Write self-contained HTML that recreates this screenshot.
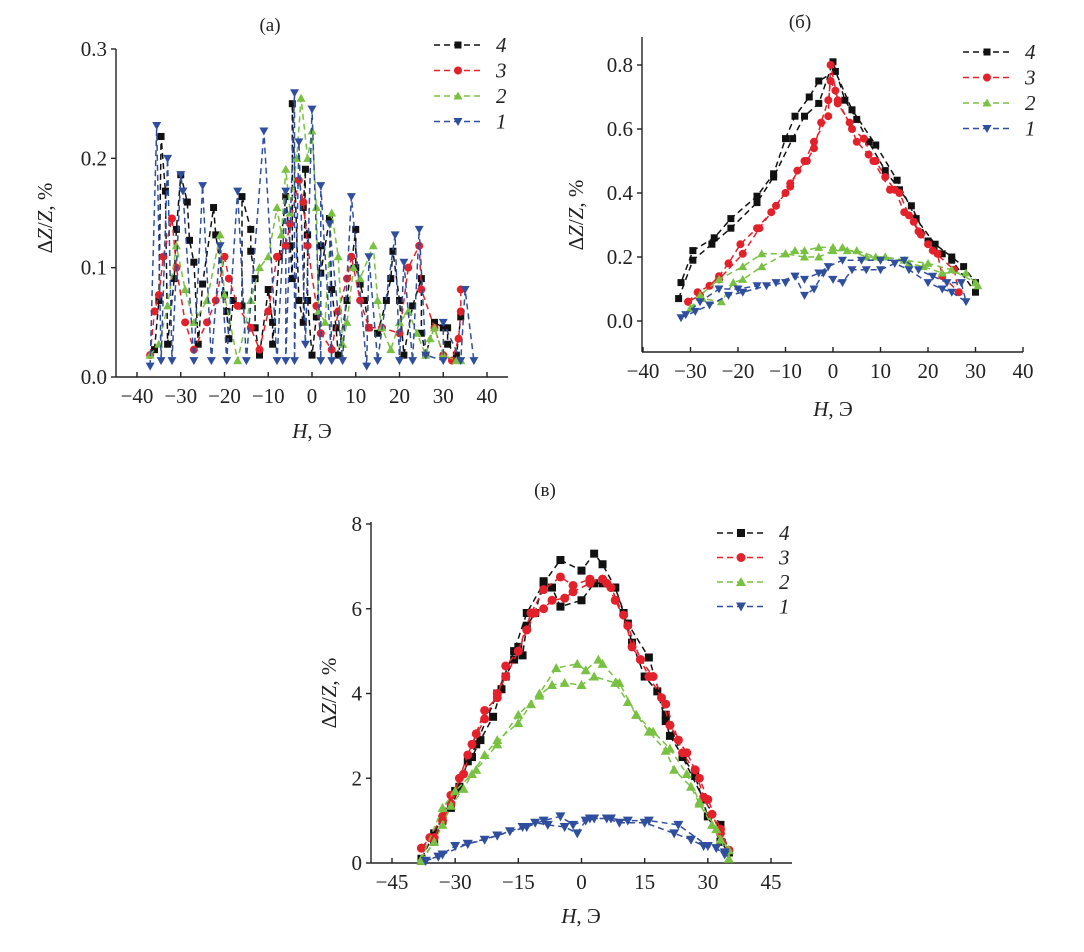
<!DOCTYPE html>
<html><head><meta charset="utf-8">
<style>
html,body{margin:0;padding:0;background:#fff;}
svg{display:block;font-family:"Liberation Serif",serif;}
</style></head>
<body>
<svg id="fig" width="1084" height="952" viewBox="0 0 1084 952" xmlns="http://www.w3.org/2000/svg"></svg>
<script>
// ---------- Panel (a) data ----------
const aBlackX=[-36,-35,-34.5,-33.5,-33,-31.5,-31,-30,-28.5,-28,-27,-26,-25,-22.5,-22,-20,-19.5,-19,-18,-16,-16,-14,-14,-13,-13,-12,-10,-9,-9,-7.5,-6,-5,-4.5,-4.5,-3,-2,-1.5,-2,-1,-1,0,1,2,2,4,4.5,5.5,6,8,10,10,11,12,13,15,17,18,18.5,20,21,23,25,25,26,28,30,31,31,33,34];
const aBlackY=[0.025,0.07,0.22,0.17,0.03,0.09,0.135,0.185,0.16,0.125,0.105,0.03,0.085,0.155,0.13,0.075,0.06,0.035,0.07,0.065,0.165,0.135,0.115,0.09,0.045,0.02,0.08,0.05,0.03,0.11,0.165,0.12,0.09,0.25,0.07,0.05,0.19,0.155,0.13,0.07,0.02,0.055,0.12,0.095,0.145,0.08,0.045,0.02,0.07,0.135,0.1,0.085,0.07,0.045,0.04,0.07,0.09,0.115,0.07,0.02,0.065,0.09,0.04,0.02,0.05,0.045,0.045,0.03,0.02,0.055];
const aRedX=[-37,-36,-35,-34,-32,-31,-29,-27,-24,-22,-20,-19,-17,-14,-12,-10,-8,-6,-5,-3,-2,-1,1,2,4.5,6,8,9,11,13,16,20,22,24.5,25,28,30,32,33.5,34,34];
const aRedY=[0.02,0.06,0.075,0.11,0.145,0.1,0.05,0.025,0.05,0.07,0.11,0.09,0.065,0.045,0.025,0.06,0.11,0.12,0.14,0.18,0.16,0.12,0.065,0.04,0.025,0.06,0.09,0.11,0.07,0.045,0.045,0.04,0.1,0.12,0.08,0.045,0.02,0.015,0.035,0.06,0.08];
const aGreenX=[-37,-35,-33,-31,-29,-27,-24,-21,-20,-17,-14,-12,-10,-8,-7,-6,-5,-3.5,-2.5,-1,0,1,1.5,3,4.5,6,7,8,9.5,11,14,15,16,18,20,22,24,26,27,28,30,33,34];
const aGreenY=[0.02,0.03,0.065,0.12,0.08,0.05,0.07,0.13,0.075,0.015,0.07,0.1,0.11,0.155,0.13,0.19,0.15,0.2,0.255,0.2,0.225,0.155,0.06,0.05,0.15,0.11,0.03,0.05,0.1,0.09,0.12,0.07,0.045,0.025,0.05,0.06,0.04,0.02,0.035,0.045,0.02,0.015,0.015];
const aBlueX=[-37,-35.5,-34.5,-33,-32,-30,-29.5,-27,-25,-23,-21,-19.5,-17,-15,-11,-8,-6,-6,-4,-4,-3,-1.5,0,2,2,4.5,4,7,9,12.5,13,15,19,20,21,23,24.5,26,30,30,34,35,37];
const aBlueY=[0.01,0.23,0.015,0.2,0.015,0.185,0.17,0.015,0.175,0.015,0.12,0.015,0.17,0.015,0.225,0.015,0.17,0.015,0.26,0.015,0.215,0.03,0.245,0.015,0.175,0.015,0.14,0.015,0.165,0.01,0.11,0.015,0.13,0.015,0.105,0.015,0.135,0.02,0.015,0.05,0.015,0.08,0.015];
const aXTicks=[-40,-30,-20,-10,0,10,20,30,40];
const aYTicks=[0,0.1,0.2,0.3];
const aYLabels=["0.0","0.1","0.2","0.3"];

// ---------- Panel (б) data ----------
const bBlackX=[-32.5,-29.5,-25.5,-21.5,-16,-12.5,-8.5,-6,-3,0,2.5,5,7.5,11,14,16.5,20,23,25,30,30,27.5,25,21.5,17.5,13.5,9,4,0.5,-3,-5,-8,-10,-12.5,-16,-21.5,-25,-29.5,-32];
const bBlackY=[0.07,0.19,0.24,0.29,0.37,0.45,0.57,0.64,0.68,0.81,0.69,0.63,0.56,0.47,0.41,0.36,0.25,0.21,0.19,0.09,0.12,0.17,0.2,0.24,0.32,0.44,0.55,0.66,0.78,0.75,0.7,0.64,0.57,0.46,0.39,0.32,0.26,0.22,0.12];
const bRedX=[-30.5,-28.5,-26,-24,-22,-19.5,-16,-13,-10,-9,-7.5,-5.5,-4,-2.5,-1,-0.5,0.5,1,3.5,5,7.5,9,11,13,15,17,18.5,20,22,23,26.5,25.5,21,18,16,14,12,8.5,6.5,4,1,-0.5,-1,-4,-6,-9,-12,-15.5,-19,-24,-28,-30.5];
const bRedY=[0.06,0.09,0.11,0.14,0.18,0.24,0.29,0.34,0.4,0.42,0.47,0.5,0.54,0.62,0.69,0.75,0.72,0.68,0.62,0.56,0.52,0.5,0.45,0.41,0.34,0.31,0.27,0.24,0.21,0.14,0.09,0.16,0.22,0.28,0.33,0.4,0.41,0.5,0.57,0.6,0.69,0.8,0.64,0.56,0.5,0.43,0.36,0.29,0.21,0.13,0.08,0.06];
const bGreenX=[-30,-27.5,-23.5,-21,-19,-15,-10,-6,-3,0,3,5,9,11,16,19,23,28,30.5,30,25,20,15,11,7,2,0,-3,-6,-8,-10,-15,-19,-24,-28,-30];
const bGreenY=[0.04,0.07,0.06,0.12,0.13,0.17,0.21,0.2,0.2,0.22,0.22,0.22,0.2,0.2,0.18,0.17,0.15,0.15,0.11,0.12,0.16,0.18,0.19,0.2,0.2,0.23,0.23,0.23,0.22,0.22,0.21,0.21,0.17,0.13,0.08,0.04];
const bBlueX=[-32,-29,-26,-22,-19,-14,-10,-8,-6,-4,-2,0,2,4,7,10,13,16,20,23,25,28,27,24,21,18,15,10,6,2,-1,-3,-6,-8,-12,-16,-20,-24,-28,-31];
const bBlueY=[0.01,0.03,0.05,0.08,0.09,0.11,0.12,0.14,0.08,0.1,0.15,0.13,0.12,0.16,0.16,0.16,0.18,0.16,0.12,0.1,0.09,0.06,0.12,0.12,0.14,0.16,0.19,0.19,0.19,0.19,0.17,0.15,0.13,0.14,0.12,0.11,0.1,0.1,0.06,0.02];
const bXTicks=[-40,-30,-20,-10,0,10,20,30,40];
const bYTicks=[0,0.2,0.4,0.6,0.8];
const bYLabels=["0.0","0.2","0.4","0.6","0.8"];

// ---------- Panel (в) data ----------
const cBlackX=[-38,-35,-33,-31,-29,-27,-26,-24,-21,-19,-18,-16,-15,-14,-13,-11,-9,-7,-5,0,3,5,8,10,12,15,18,20,21,27,30,33,35,35,33,29,24,20,16,11,8,5,3,0,-5,-9,-13,-16,-20,-25,-30,-35,-38];
const cBlackY=[0.05,0.5,1.0,1.3,1.8,2.4,2.5,2.9,3.45,4.1,4.4,4.8,5.1,4.9,5.6,5.9,6.65,6.5,6.05,6.2,6.6,6.6,6.5,5.9,5.2,4.4,4.05,3.35,3.0,2.05,1.1,0.5,0.25,0.25,0.9,1.5,2.5,3.5,4.85,5.65,6.5,7.05,7.3,6.9,7.15,6.6,5.9,5.0,4.0,2.8,1.7,0.7,0.1];
const cRedX=[-38,-35,-33,-31,-29,-27,-25,-23,-20,-18,-15,-13,-11,-9,-7,-4,-2,2,5,7,10,12,14,16,19,21,23,25,27,29,31,33,35,35,33,30,28,24,20,17,14,11,8,6,2,-2,-5,-9,-12,-15,-18,-20,-23,-26,-28,-31,-33,-36,-38];
const cRedY=[0.35,0.6,1.0,1.4,2.0,2.55,3.05,3.6,3.9,4.65,5.0,5.5,5.9,6.0,6.2,6.25,6.4,6.6,6.7,6.5,5.85,5.1,4.8,4.4,3.9,3.25,2.9,2.6,2.2,1.55,1.15,0.7,0.3,0.3,0.8,1.5,2.0,2.6,3.75,4.4,4.8,5.6,6.2,6.6,6.7,6.55,6.75,6.45,5.9,5.0,4.4,4.0,3.4,2.8,2.1,1.6,1.1,0.6,0.35];
const cGreenX=[-38,-35,-33,-31,-28,-26,-23,-20,-15,-12,-10,-7,-4,0,3,8,11,13,16,20,22,26,28,31,33,35,35,32,28,25,21,17,13,9,5,4,1,-1,-6,-10,-15,-20,-25,-30,-33,-38];
const cGreenY=[0.05,0.5,0.9,1.35,1.75,2.1,2.55,2.9,3.3,3.75,3.95,4.2,4.25,4.2,4.4,4.25,3.8,3.5,3.1,2.65,2.2,1.8,1.4,0.9,0.55,0.1,0.3,0.8,1.45,2.1,2.7,3.1,3.5,4.25,4.7,4.8,4.55,4.7,4.6,4.0,3.5,2.8,2.2,1.7,1.3,0.1];
const cBlueX=[-37,-34,-30,-27,-23,-20,-17,-14,-11,-8,-4,-1,1,3,6,9,15,22,26,29,32,34,34,30,23,16,11,7,2,-2,-5,-9,-13,-20,-27,-33,-37];
const cBlueY=[0.05,0.15,0.4,0.45,0.55,0.65,0.75,0.85,0.95,0.9,0.85,0.7,1.0,1.05,1.05,0.95,0.95,0.7,0.55,0.4,0.35,0.2,0.25,0.4,0.9,1.0,1.0,1.05,1.05,0.9,1.1,1.0,0.85,0.65,0.45,0.2,0.05];
const cXTicks=[-45,-30,-15,0,15,30,45];
const cYTicks=[0,2,4,6,8];
const cYLabels=["0","2","4","6","8"];

const COLORS={k:"#111",r:"#e3212b",g:"#79c142",b:"#2f4f9e"};
const NS="http://www.w3.org/2000/svg";
const svg=document.getElementById('fig');
function mk(tag,attrs,parent){const e=document.createElementNS(NS,tag);for(const k in attrs)e.setAttribute(k,attrs[k]);(parent||svg).appendChild(e);return e;}

function marker(g,type,x,y,s,col){
  let e;
  if(type==='sq'){e=mk('rect',{x:x-s/2,y:y-s/2,width:s,height:s,fill:col},g);}
  else if(type==='ci'){e=mk('circle',{cx:x,cy:y,r:s/2+0.5,fill:col},g);}
  else if(type==='up'){e=mk('polygon',{points:`${x},${y-s/2-1} ${x-s/2-1},${y+s/2} ${x+s/2+1},${y+s/2}`,fill:col},g);}
  else {e=mk('polygon',{points:`${x},${y+s/2+1} ${x-s/2-1},${y-s/2} ${x+s/2+1},${y-s/2}`,fill:col},g);}
  return e;
}

function panel(cfg){
  const g=mk('g',{});
  
  
  const sx=v=>cfg.x0+(v-cfg.xmin)*(cfg.x1-cfg.x0)/(cfg.xmax-cfg.xmin);
  const sy=v=>cfg.y0-(v-cfg.ymin)*(cfg.y0-cfg.y1)/(cfg.ymax-cfg.ymin);
  const t=mk('text',{x:cfg.titleX,y:cfg.titleY,'font-size':19,'text-anchor':'middle',fill:'#222'},g);
  t.textContent=cfg.title;
  
  
  const ax=mk('g',{stroke:'#222','stroke-width':1.4,fill:'none'},g);
  
  
  mk('line',{x1:cfg.axL,y1:cfg.axB,x2:cfg.axR,y2:cfg.axB},ax);
  mk('line',{x1:cfg.axL,y1:cfg.axB,x2:cfg.axL,y2:cfg.axT},ax);
  cfg.xt.forEach(v=>{
    const X=sx(v);mk('line',{x1:X,y1:cfg.axB,x2:X,y2:cfg.axB-5},ax);
    const tx=mk('text',{x:X,y:cfg.axB+26,'font-size':21,'text-anchor':'middle',fill:'#222',stroke:'none'},g);
    tx.textContent=(v<0?'\u2212'+(-v):''+v);
    
    
  });
  cfg.yt.forEach((v,i)=>{
    const Y=sy(v);mk('line',{x1:cfg.axL,y1:Y,x2:cfg.axL-5,y2:Y},ax);
    const ty=mk('text',{x:cfg.axL-9,y:Y+7,'font-size':21,'text-anchor':'end',fill:'#222',stroke:'none'},g);
    ty.textContent=cfg.yl[i];
    
    
  });
  const xl=mk('text',{x:cfg.xlX,y:cfg.xlY,'font-size':21,'text-anchor':'middle',fill:'#222'},g);
  xl.innerHTML='<tspan font-style="italic">H</tspan>, Э';
  
  
  const yl=mk('text',{x:0,y:0,'font-size':21,'text-anchor':'middle',fill:'#222',transform:`translate(${cfg.ylX},${cfg.ylY}) rotate(-90)`},g);
  yl.innerHTML='Δ<tspan font-style="italic">Z</tspan>/<tspan font-style="italic">Z</tspan>, %';
  
  
  cfg.series.forEach(s=>{
    const sg=mk('g',{},g);
    
    
    const pts=s.x.map((v,i)=>sx(v).toFixed(1)+','+sy(s.y[i]).toFixed(1)).join(' ');
    mk('polyline',{points:pts,fill:'none',stroke:COLORS[s.c],'stroke-width':1.5,'stroke-dasharray':'6,4'},sg);
    s.x.forEach((v,i)=>{
      const m=marker(sg,s.m,sx(v),sy(s.y[i]),cfg.ms,COLORS[s.c]);
      
      
    });
  });
  const lg=mk('g',{},g);
  
  
  cfg.series.forEach((s,i)=>{
    const Y=cfg.legY+i*cfg.legDy;
    const le=mk('g',{},lg);
    
    
    mk('line',{x1:cfg.legX,y1:Y,x2:cfg.legX+48,y2:Y,stroke:COLORS[s.c],'stroke-width':1.5,'stroke-dasharray':'6,4'},le);
    marker(le,s.m,cfg.legX+24,Y,cfg.ms,COLORS[s.c]);
    const tt=mk('text',{x:cfg.legX+62,y:Y+7,'font-size':21,'font-style':'italic',fill:'#222'},le);
    tt.textContent=s.label;
  });
}

panel({name:'panel-a',title:'(a)',titleX:270,titleY:31,x0:137,x1:487,xmin:-40,xmax:40,y0:377,y1:49,ymin:0,ymax:0.3,
  axL:116,axR:508,axB:377,axT:49,xt:aXTicks,yt:aYTicks,yl:aYLabels,xlX:312,xlY:438,ylX:52,ylY:218,ms:7,
  legX:434,legY:45,legDy:25.5,
  series:[{label:'4',c:'k',m:'sq',x:aBlackX,y:aBlackY},{label:'3',c:'r',m:'ci',x:aRedX,y:aRedY},{label:'2',c:'g',m:'up',x:aGreenX,y:aGreenY},{label:'1',c:'b',m:'dn',x:aBlueX,y:aBlueY}]});
panel({name:'panel-b',title:'(б)',titleX:800,titleY:28,x0:643,x1:1023,xmin:-40,xmax:40,y0:321,y1:65,ymin:0,ymax:0.8,
  axL:642,axR:1023,axB:352,axT:37,xt:bXTicks,yt:bYTicks,yl:bYLabels,xlX:833,xlY:416,ylX:583,ylY:215,ms:7,
  legX:963,legY:52,legDy:25.5,
  series:[{label:'4',c:'k',m:'sq',x:bBlackX,y:bBlackY},{label:'3',c:'r',m:'ci',x:bRedX,y:bRedY},{label:'2',c:'g',m:'up',x:bGreenX,y:bGreenY},{label:'1',c:'b',m:'dn',x:bBlueX,y:bBlueY}]});
panel({name:'panel-c',title:'(в)',titleX:545,titleY:496,x0:392,x1:771,xmin:-45,xmax:45,y0:863,y1:524,ymin:0,ymax:8,
  axL:371,axR:792,axB:863,axT:522,xt:cXTicks,yt:cYTicks,yl:cYLabels,xlX:581,xlY:923,ylX:336,ylY:693,ms:8,
  legX:717,legY:533,legDy:24.5,
  series:[{label:'4',c:'k',m:'sq',x:cBlackX,y:cBlackY},{label:'3',c:'r',m:'ci',x:cRedX,y:cRedY},{label:'2',c:'g',m:'up',x:cGreenX,y:cGreenY},{label:'1',c:'b',m:'dn',x:cBlueX,y:cBlueY}]});
</script>
</body></html>
